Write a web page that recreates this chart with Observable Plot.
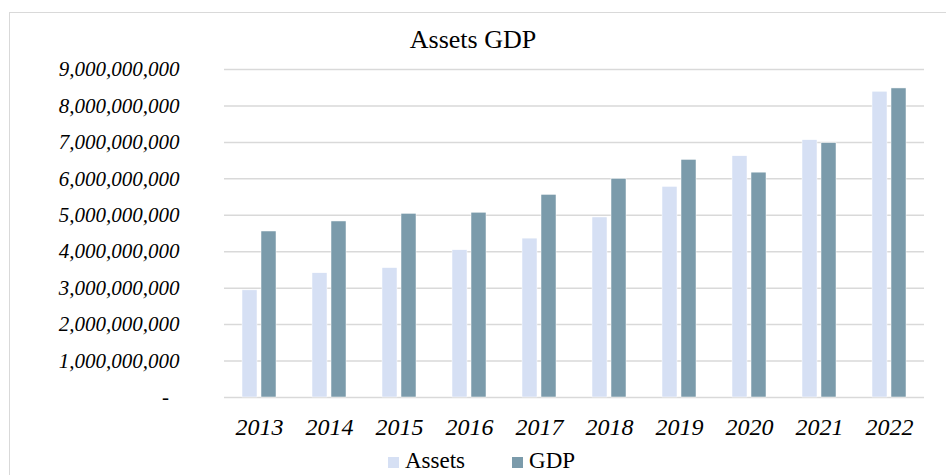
<!DOCTYPE html>
<html>
<head>
<meta charset="utf-8">
<script src="https://cdn.jsdelivr.net/npm/d3@7"></script>
<script src="https://cdn.jsdelivr.net/npm/@observablehq/plot@0.6"></script>
<style>
  html, body { margin: 0; padding: 0; background: #fff; }
  #wrap { position: relative; width: 946px; height: 475px; overflow: hidden; font-family: "Liberation Serif", "Times New Roman", serif; color: #000; }
  #frame { position: absolute; left: 9px; top: 12px; width: 960px; height: 480px; border-left: 1.5px solid #d9d9d9; border-top: 1.5px solid #d9d9d9; box-sizing: border-box; }
  #title { position: absolute; left: 0; width: 946px; top: 27px; text-align: center; font-size: 26px; line-height: 26px; }
  #chart { position: absolute; left: 0; top: 0; }
  #legend { position: absolute; left: 388px; top: 449px; font-size: 23px; line-height: 23px; white-space: nowrap; }
  #legend .sw { display: inline-block; width: 11px; height: 11px; margin-right: 6px; }
  #legend .item { display: inline-block; }
  #chart svg text { white-space: pre; }
</style>
</head>
<body>
<div id="wrap">
  <div id="frame"></div>
  <div id="chart"></div>
  <div id="title">Assets GDP</div>
  <div id="legend"></div>
</div>
<script>
const years = [2013, 2014, 2015, 2016, 2017, 2018, 2019, 2020, 2021, 2022];
const assets = [2.94e9, 3.41e9, 3.55e9, 4.04e9, 4.36e9, 4.94e9, 5.78e9, 6.62e9, 7.06e9, 8.39e9];
const gdp = [4.555e9, 4.83e9, 5.04e9, 5.07e9, 5.56e9, 6.00e9, 6.52e9, 6.17e9, 6.98e9, 8.48e9];
const seriesNames = ["Assets", "GDP"];
const seriesColors = ["#d6e0f4", "#7b9bab"];
const yTicks = [0, 1e9, 2e9, 3e9, 4e9, 5e9, 6e9, 7e9, 8e9, 9e9];

const table = [];
years.forEach((yr, i) => {
  table.push({year: String(yr), series: "Assets", value: assets[i]});
  table.push({year: String(yr), series: "GDP", value: gdp[i]});
});

const fmt = d3.format(",");
const chart = Plot.plot({
  width: 946,
  height: 445,
  marginTop: 69,
  marginBottom: 48,
  marginLeft: 222,
  marginRight: 20,
  style: {fontFamily: "Liberation Serif, serif", fontSize: "21px", fontStyle: "italic", color: "#000", background: "transparent", overflow: "visible"},
  fx: {domain: years.map(String), padding: 0, label: null, tickSize: 0, tickPadding: 20, axis: "bottom"},
  x: {domain: seriesNames, paddingInner: 0.225, paddingOuter: 0.8725, axis: null},
  y: {domain: [0, 9e9], ticks: yTicks, tickSize: 0, tickPadding: 45, label: null,
      tickFormat: d => d === 0 ? "-\u00a0\u00a0" : fmt(d)},
  color: {domain: seriesNames, range: seriesColors},
  marks: [
    Plot.ruleY(yTicks, {stroke: "#d9d9d9", strokeWidth: 1.5}),
    Plot.barY(table, {fx: "year", x: "series", y: "value", fill: "series", stroke: "#fff", strokeWidth: 0.5, inset: 0})
  ]
});
document.getElementById("chart").appendChild(chart);
chart.querySelectorAll('[aria-label^="fx-axis"] text').forEach(t => t.setAttribute("font-size", "24"));
chart.querySelectorAll('[aria-label^="fx-axis"]').forEach(g => g.setAttribute("font-size", "24"));

const legend = document.getElementById("legend");
seriesNames.forEach((name, i) => {
  const item = document.createElement("span");
  item.className = "item";
  item.style.marginRight = i === 0 ? "47px" : "0";
  const sw = document.createElement("span");
  sw.className = "sw";
  sw.style.background = seriesColors[i];
  item.appendChild(sw);
  item.appendChild(document.createTextNode(name));
  legend.appendChild(item);
});
</script>
</body>
</html>
